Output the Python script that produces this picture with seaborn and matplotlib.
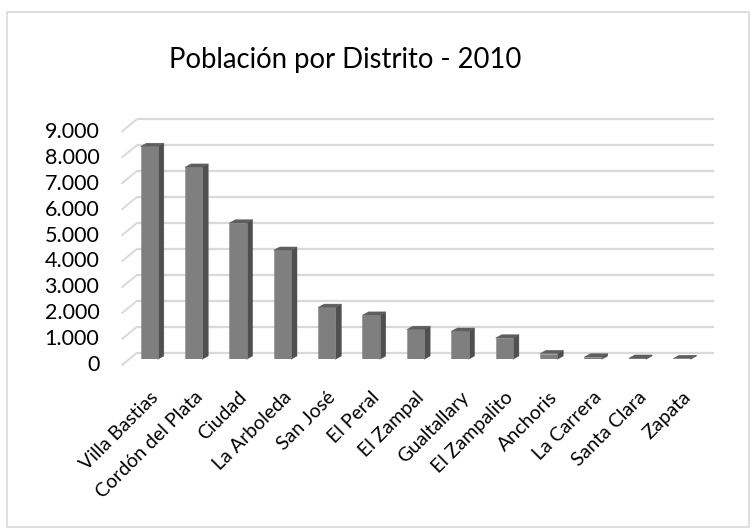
import numpy as np
import matplotlib
matplotlib.use("Agg")
import matplotlib.pyplot as plt
import seaborn as sns
from matplotlib.patches import Polygon, Rectangle
from matplotlib.transforms import ScaledTranslation

# ---------------------------
# Data
# ---------------------------
districts = ["Villa Bastias", "Cordón del Plata", "Ciudad", "La Arboleda", "San José",
             "El Peral", "El Zampal", "Gualtallary", "El Zampalito", "Anchoris",
             "La Carrera", "Santa Clara", "Zapata"]
population = [8200, 7400, 5250, 4200, 2000, 1700, 1150, 1080, 820, 220, 90, 40, 30]
y_ticks = [0, 1000, 2000, 3000, 4000, 5000, 6000, 7000, 8000, 9000]
y_tick_labels = ["0", "1.000", "2.000", "3.000", "4.000", "5.000", "6.000",
                 "7.000", "8.000", "9.000"]
title = "Población por Distrito - 2010"

# ---------------------------
# Style
# ---------------------------
sns.set_style("white")
plt.rcParams["font.family"] = ["Lato", "DejaVu Sans"]

FRONT = "#7f7f7f"
SIDE = "#4f4f4f"
TOP = "#5e5e5e"
GRID = "#d9d9d9"
TEXT = "#000000"

W, H = 756, 528
fig = plt.figure(figsize=(W / 100, H / 100), dpi=100)

# chart area border
fig.patches.append(Rectangle((7 / W, 1 - 527 / H), 742 / W, 515 / H,
                             transform=fig.transFigure, fill=False,
                             edgecolor=GRID, linewidth=1.2))

ax = fig.add_axes([127 / W, (H - 359.3) / H, 577 / W, 233.6 / H])

sns.barplot(x=districts, y=population, color=FRONT, saturation=1, width=0.39,
            edgecolor="#8a8a8a", linewidth=0.4, ax=ax, zorder=3)

ax.set_xlim(-0.5, len(districts) - 0.5)
ax.set_ylim(0, 9000)
ax.set_yticks([])
ax.set_xlabel("")
ax.set_ylabel("")
for s in ax.spines.values():
    s.set_visible(False)
ax.patch.set_visible(False)


def px(dx, dy):
    # pixel offset; dy positive = down in the image
    return ScaledTranslation(dx / 100, -dy / 100, fig.dpi_scale_trans)


def shift(x, y, dx, dy):
    p = ax.transData.transform((x, y)) + np.array([dx, -dy])
    return ax.transData.inverted().transform(p)


# back wall gridlines
BACK = (10, -6.6)
FRONT_OFF = (-5, 5.7)
ax.hlines(y_ticks, -0.5, len(districts) - 0.5, transform=ax.transData + px(*BACK),
          color=GRID, linewidth=1.6, zorder=0, clip_on=False)

# left floor/wall diagonals and value labels
for v, lab in zip(y_ticks, y_tick_labels):
    a = shift(-0.5, v, *FRONT_OFF)
    b = shift(-0.5, v, *BACK)
    ax.plot([a[0], b[0]], [a[1], b[1]], color=GRID, linewidth=1.4,
            zorder=0, clip_on=False)
    ax.text(-0.5, v, lab, transform=ax.transData + px(-27.7, 6),
            ha="right", va="center", fontsize=15.5, color=TEXT)

# 3D side and top faces for each bar
DX, DY = 6, -3.3
for p in ax.patches:
    x0 = p.get_x()
    w = p.get_width()
    h = p.get_height()
    x1 = x0 + w
    side = [(x1, 0), (x1, h), tuple(shift(x1, h, DX, DY)), tuple(shift(x1, 0, DX, DY))]
    top = [(x0, h), (x1, h), tuple(shift(x1, h, DX, DY)), tuple(shift(x0, h, DX, DY))]
    ax.add_patch(Polygon(side, closed=True, facecolor=SIDE, edgecolor=SIDE,
                         linewidth=0.3, zorder=2, clip_on=False))
    ax.add_patch(Polygon(top, closed=True, facecolor=TOP, edgecolor=TOP,
                         linewidth=0.3, zorder=4, clip_on=False))

ax.set_xticks(range(len(districts)))
ax.set_xticklabels(districts, rotation=45, ha="right", va="top",
                   rotation_mode="anchor", fontsize=14, color=TEXT)
ax.tick_params(axis="x", length=0, pad=20.9)

fig.text(345 / W, 1 - 68.3 / H, title, ha="center", va="baseline",
         fontsize=19.8, color=TEXT)

fig.savefig("out.png", dpi=100)
